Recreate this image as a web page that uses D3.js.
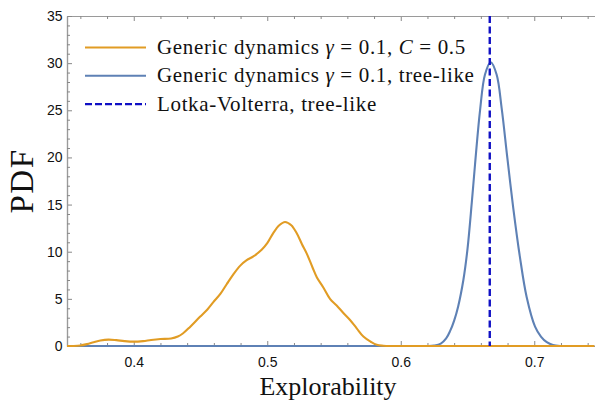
<!DOCTYPE html>
<html>
<head>
<meta charset="utf-8">
<script src="https://cdn.jsdelivr.net/npm/d3@7"></script>
<style>
  html, body { margin: 0; padding: 0; background: #fff; }
  svg { display: block; }
</style>
</head>
<body>
<svg id="chart" width="595" height="400"></svg>
<script>
// Explorability PDFs: generic dynamics on a dense graph vs. a tree, with the LV value
const orangeX = [0.350, 0.355, 0.360, 0.365, 0.370, 0.375, 0.381, 0.387, 0.393, 0.400,
                 0.407, 0.413, 0.420, 0.428, 0.433, 0.437, 0.442, 0.4496, 0.455, 0.4596,
                 0.465, 0.4696, 0.4746, 0.4796, 0.4846, 0.4896, 0.4958, 0.500, 0.5046, 0.509,
                 0.5133, 0.518, 0.5221, 0.526, 0.5296, 0.534, 0.5371, 0.542, 0.547, 0.552,
                 0.557, 0.562, 0.567, 0.572, 0.5775, 0.582, 0.587, 0.592, 0.600, 0.620,
                 0.680, 0.745];
const orangeY = [0.0, 0.0, 0.05, 0.2, 0.4, 0.58, 0.68, 0.62, 0.52, 0.46,
                 0.52, 0.64, 0.74, 0.8, 1.0, 1.35, 2.0, 3.1, 3.85, 4.65,
                 5.55, 6.55, 7.6, 8.5, 9.1, 9.5, 10.2, 10.9, 12.0, 12.8,
                 13.15, 12.8, 11.95, 10.8, 9.8, 8.3, 7.3, 6.2, 5.0, 4.3,
                 3.5, 2.76, 1.87, 1.0, 0.45, 0.12, 0.03, 0.0, 0.0, 0.0,
                 0.0, 0.0];

const blueX = [0.350, 0.450, 0.550, 0.600, 0.610, 0.615, 0.620, 0.625, 0.630, 0.634,
               0.637, 0.640, 0.643, 0.6469, 0.650, 0.6532, 0.6556, 0.6594, 0.6631, 0.6674,
               0.6718, 0.6756, 0.6798, 0.6843, 0.6893, 0.6943, 0.7006, 0.705, 0.7094, 0.714,
               0.720, 0.725, 0.730, 0.745];
const blueY = [0.0, 0.0, 0.0, 0.0, 0.0, 0.0, 0.0, 0.05, 0.25, 0.8,
               1.6, 2.7, 4.2, 7.0, 10.3, 15.2, 19.2, 25.0, 28.8, 30.1,
               28.8, 25.2, 20.0, 14.6, 9.4, 5.2, 2.05, 1.0, 0.4, 0.1,
               0.0, 0.0, 0.0, 0.0];

const lvValue = 2 / 3;   // Lotka-Volterra tree-like explorability

const xMajor = [0.4, 0.5, 0.6, 0.7];
const yMajor = [0, 5, 10, 15, 20, 25, 30, 35];

const plotLeft = 67, plotRight = 595, plotTop = 16, plotBottom = 346;

const svg = d3.select("#chart");
const x = d3.scaleLinear().domain([0.35, 0.7455]).range([plotLeft, plotRight]);
const y = d3.scaleLinear().domain([0, 35]).range([plotBottom, plotTop]);

const frameColor = "#9a9a9a";
const sans = "'Liberation Sans', Arial, sans-serif";
const serif = "'Liberation Serif', 'Times New Roman', serif";

const xMinor = d3.range(0.36, 0.746, 0.02).filter(v => !xMajor.some(m => Math.abs(m - v) < 1e-6));
const yMinor = d3.range(0, 35.01, 1).filter(v => v % 5 !== 0);

function styleAxis(g) {
  g.selectAll("path.domain").attr("stroke", frameColor).attr("stroke-width", 1.2);
  g.selectAll(".tick line").attr("stroke", "#888").attr("stroke-width", 1);
  g.selectAll(".tick text").attr("fill", "#111").attr("font-family", sans).attr("font-size", 14);
}

// bottom frame with labels
svg.append("g").attr("transform", `translate(0,${plotBottom})`)
  .call(d3.axisBottom(x).tickValues(xMajor).tickFormat(d3.format(".1f"))
        .tickSizeInner(-5).tickSizeOuter(0).tickPadding(11))
  .call(styleAxis);
svg.append("g").attr("transform", `translate(0,${plotBottom})`)
  .call(d3.axisBottom(x).tickValues(xMinor).tickFormat("").tickSizeInner(-3).tickSizeOuter(0))
  .call(styleAxis);

// top frame
svg.append("g").attr("transform", `translate(0,${plotTop})`)
  .call(d3.axisTop(x).tickValues(xMajor).tickFormat("").tickSizeInner(-5).tickSizeOuter(0))
  .call(styleAxis);
svg.append("g").attr("transform", `translate(0,${plotTop})`)
  .call(d3.axisTop(x).tickValues(xMinor).tickFormat("").tickSizeInner(-3).tickSizeOuter(0))
  .call(styleAxis);

// left frame with labels
svg.append("g").attr("transform", `translate(${plotLeft},0)`)
  .call(d3.axisLeft(y).tickValues(yMajor).tickFormat(d3.format("d"))
        .tickSizeInner(-5).tickSizeOuter(0).tickPadding(4.5))
  .call(styleAxis);
svg.append("g").attr("transform", `translate(${plotLeft},0)`)
  .call(d3.axisLeft(y).tickValues(yMinor).tickFormat("").tickSizeInner(-3).tickSizeOuter(0))
  .call(styleAxis);

// curves
const line = d3.line().x(d => x(d[0])).y(d => Math.min(y(d[1]), plotBottom))
  .curve(d3.curveCatmullRom.alpha(0.5));
const blueData = blueX.map((v, i) => [v, blueY[i]]);
const orangeData = orangeX.map((v, i) => [v, orangeY[i]]);

svg.append("path").datum(blueData).attr("d", line)
  .attr("fill", "none").attr("stroke", "#5E81B5").attr("stroke-width", 2.1);
svg.append("path").datum(orangeData).attr("d", line)
  .attr("fill", "none").attr("stroke", "#E19C24").attr("stroke-width", 2.1);

// Lotka-Volterra reference
svg.append("line")
  .attr("x1", x(lvValue)).attr("x2", x(lvValue))
  .attr("y1", y(35)).attr("y2", y(0))
  .attr("stroke", "#1010C4").attr("stroke-width", 2.4)
  .attr("stroke-dasharray", "7,3.5");

// legend
const legend = [
  { color: "#E19C24", dash: null,
    parts: [["Generic dynamics ", false], ["γ", true], [" = 0.1, ", false], ["C", true], [" = 0.5", false]] },
  { color: "#5E81B5", dash: null,
    parts: [["Generic dynamics ", false], ["γ", true], [" = 0.1, tree-like", false]] },
  { color: "#1010C4", dash: "7,3",
    parts: [["Lotka-Volterra, tree-like", false]] }
];
const lg = svg.append("g");
legend.forEach((item, i) => {
  const cy = 47.5 + i * 28.3;
  lg.append("line").attr("x1", 85).attr("x2", 146).attr("y1", cy).attr("y2", cy)
    .attr("stroke", item.color).attr("stroke-width", item.dash ? 2.4 : 2.1)
    .attr("stroke-dasharray", item.dash);
  const t = lg.append("text").attr("x", 157).attr("y", cy + 6.5)
    .attr("font-family", serif).attr("font-size", 21).attr("letter-spacing", 0.65)
    .attr("fill", "#111");
  item.parts.forEach(([s, it]) => {
    t.append("tspan").text(s).attr("font-style", it ? "italic" : null);
  });
});

// axis titles
svg.append("text").attr("x", (plotLeft + plotRight) / 2 - 3).attr("y", 395)
  .attr("text-anchor", "middle").attr("font-family", serif).attr("font-size", 26)
  .attr("fill", "#111").text("Explorability");
svg.append("text").attr("transform", `translate(33,${(plotTop + plotBottom) / 2}) rotate(-90)`)
  .attr("text-anchor", "middle").attr("font-family", serif).attr("font-size", 33)
  .attr("letter-spacing", 1.5).attr("fill", "#111").text("PDF");
</script>
</body>
</html>
